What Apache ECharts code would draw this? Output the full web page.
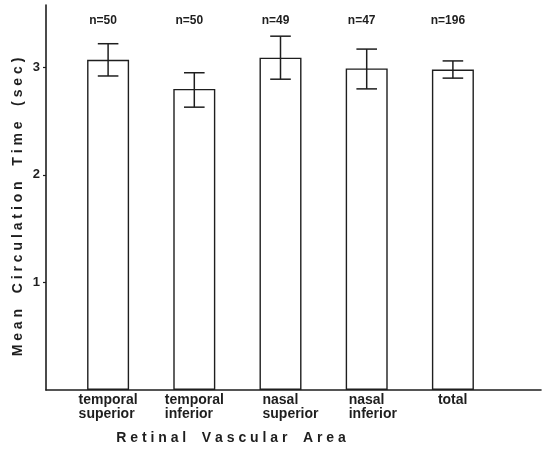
<!DOCTYPE html>
<html>
<head>
<meta charset="utf-8">
<script src="https://cdn.jsdelivr.net/npm/echarts@6/dist/echarts.min.js"></script>
<style>html,body{margin:0;padding:0;background:#fff;}#c{width:549px;height:449px;}</style>
</head>
<body>
<div id="c"></div>
<script>
const categories = ['temporal\nsuperior', 'temporal\ninferior', 'nasal\nsuperior', 'nasal\ninferior', 'total'];
const meanValues = [3.07, 2.80, 3.09, 2.99, 2.98];
const errLow = [2.92, 2.63, 2.89, 2.80, 2.90];
const errHigh = [3.22, 2.95, 3.29, 3.17, 3.06];
const nLabels = ['n=50', 'n=50', 'n=49', 'n=47', 'n=196'];
const yTicks = [1, 2, 3];
const yTitle = 'M e a n    C i r c u l a t i o n    T i m e    ( s e c )';
const xTitle = 'R e t i n a l    V a s c u l a r    A r e a';

const ink = '#1e1e1e';
const font = '"Liberation Sans", Arial, Helvetica, sans-serif';
const labelFont = 'bold 14px ' + font;

// first line of each category label is centred; following lines align to its left edge
const mctx = document.createElement('canvas').getContext('2d');
mctx.font = labelFont;
const rich = {};
categories.forEach((c, i) => {
  const w = mctx.measureText(c.split('\n')[0]).width;
  rich['l' + i] = {width: Math.round(w), align: 'left', fontFamily: font, fontSize: 14,
                   fontWeight: 'bold', lineHeight: 14, color: ink};
});

const chart = echarts.init(document.getElementById('c'), null, {renderer: 'canvas'});

chart.setOption({
  backgroundColor: '#ffffff',
  animation: false,
  grid: [
    {left: 46, right: 8, top: 5, bottom: 59},
    {left: 65, width: 431, top: 5, bottom: 59}
  ],
  xAxis: [
    {gridIndex: 0, type: 'value', min: 0, max: 1,
     axisLine: {show: true, lineStyle: {color: ink, width: 1.6}},
     axisTick: {show: false}, axisLabel: {show: false}, splitLine: {show: false}},
    {gridIndex: 1, type: 'category', data: categories,
     axisLine: {show: false}, axisTick: {show: false}, splitLine: {show: false},
     axisLabel: {
       margin: 3, interval: 0,
       formatter: (v, i) => v.split('\n').map(s => '{l' + i + '|' + s + '}').join('\n'),
       rich: rich
     }}
  ],
  yAxis: [
    {gridIndex: 0, type: 'value', min: 0, max: 3.58,
     axisLine: {show: true, lineStyle: {color: ink, width: 1.6}},
     axisTick: {show: true, inside: false, length: 3, customValues: yTicks, lineStyle: {color: ink, width: 1.2}},
     axisLabel: {customValues: yTicks, margin: 6, fontFamily: font, fontSize: 13, fontWeight: 'bold', color: ink},
     splitLine: {show: false}},
    {gridIndex: 1, type: 'value', min: 0, max: 3.58, show: false, splitLine: {show: false}}
  ],
  series: [
    {type: 'bar', xAxisIndex: 1, yAxisIndex: 1, data: meanValues, barWidth: 42,
     itemStyle: {color: '#ffffff', borderColor: ink, borderWidth: 1.4}, z: 2},
    {type: 'custom', xAxisIndex: 1, yAxisIndex: 1, z: 5,
     data: categories.map((c, i) => [i, errLow[i], errHigh[i]]),
     renderItem: (params, api) => {
       const x = api.value(0);
       const lo = api.coord([x, api.value(1)]);
       const hi = api.coord([x, api.value(2)]);
       const cap = 10.3;
       const st = {stroke: ink, lineWidth: 1.5};
       return {type: 'group', children: [
         {type: 'line', shape: {x1: hi[0], y1: hi[1], x2: lo[0], y2: lo[1]}, style: st},
         {type: 'line', shape: {x1: hi[0] - cap, y1: hi[1], x2: hi[0] + cap, y2: hi[1]}, style: st},
         {type: 'line', shape: {x1: lo[0] - cap, y1: lo[1], x2: lo[0] + cap, y2: lo[1]}, style: st}
       ]};
     }},
    {type: 'custom', xAxisIndex: 1, yAxisIndex: 1, z: 6,
     data: categories.map((c, i) => [i]),
     renderItem: (params, api) => {
       const p = api.coord([api.value(0), 3.43]);
       return {type: 'text', x: p[0] - 5, y: p[1],
         style: {text: nLabels[params.dataIndex], align: 'center', verticalAlign: 'middle',
                 font: 'bold 12px ' + font, fill: ink}};
     }}
  ],
  graphic: [
    {type: 'text', x: 18, y: 207, rotation: Math.PI / 2,
     style: {text: yTitle, align: 'center', verticalAlign: 'middle', font: 'bold 14px ' + font, fill: ink}},
    {type: 'text', x: 231, y: 438,
     style: {text: xTitle, align: 'center', verticalAlign: 'middle', font: 'bold 14px ' + font, fill: ink}}
  ]
});
</script>
</body>
</html>
